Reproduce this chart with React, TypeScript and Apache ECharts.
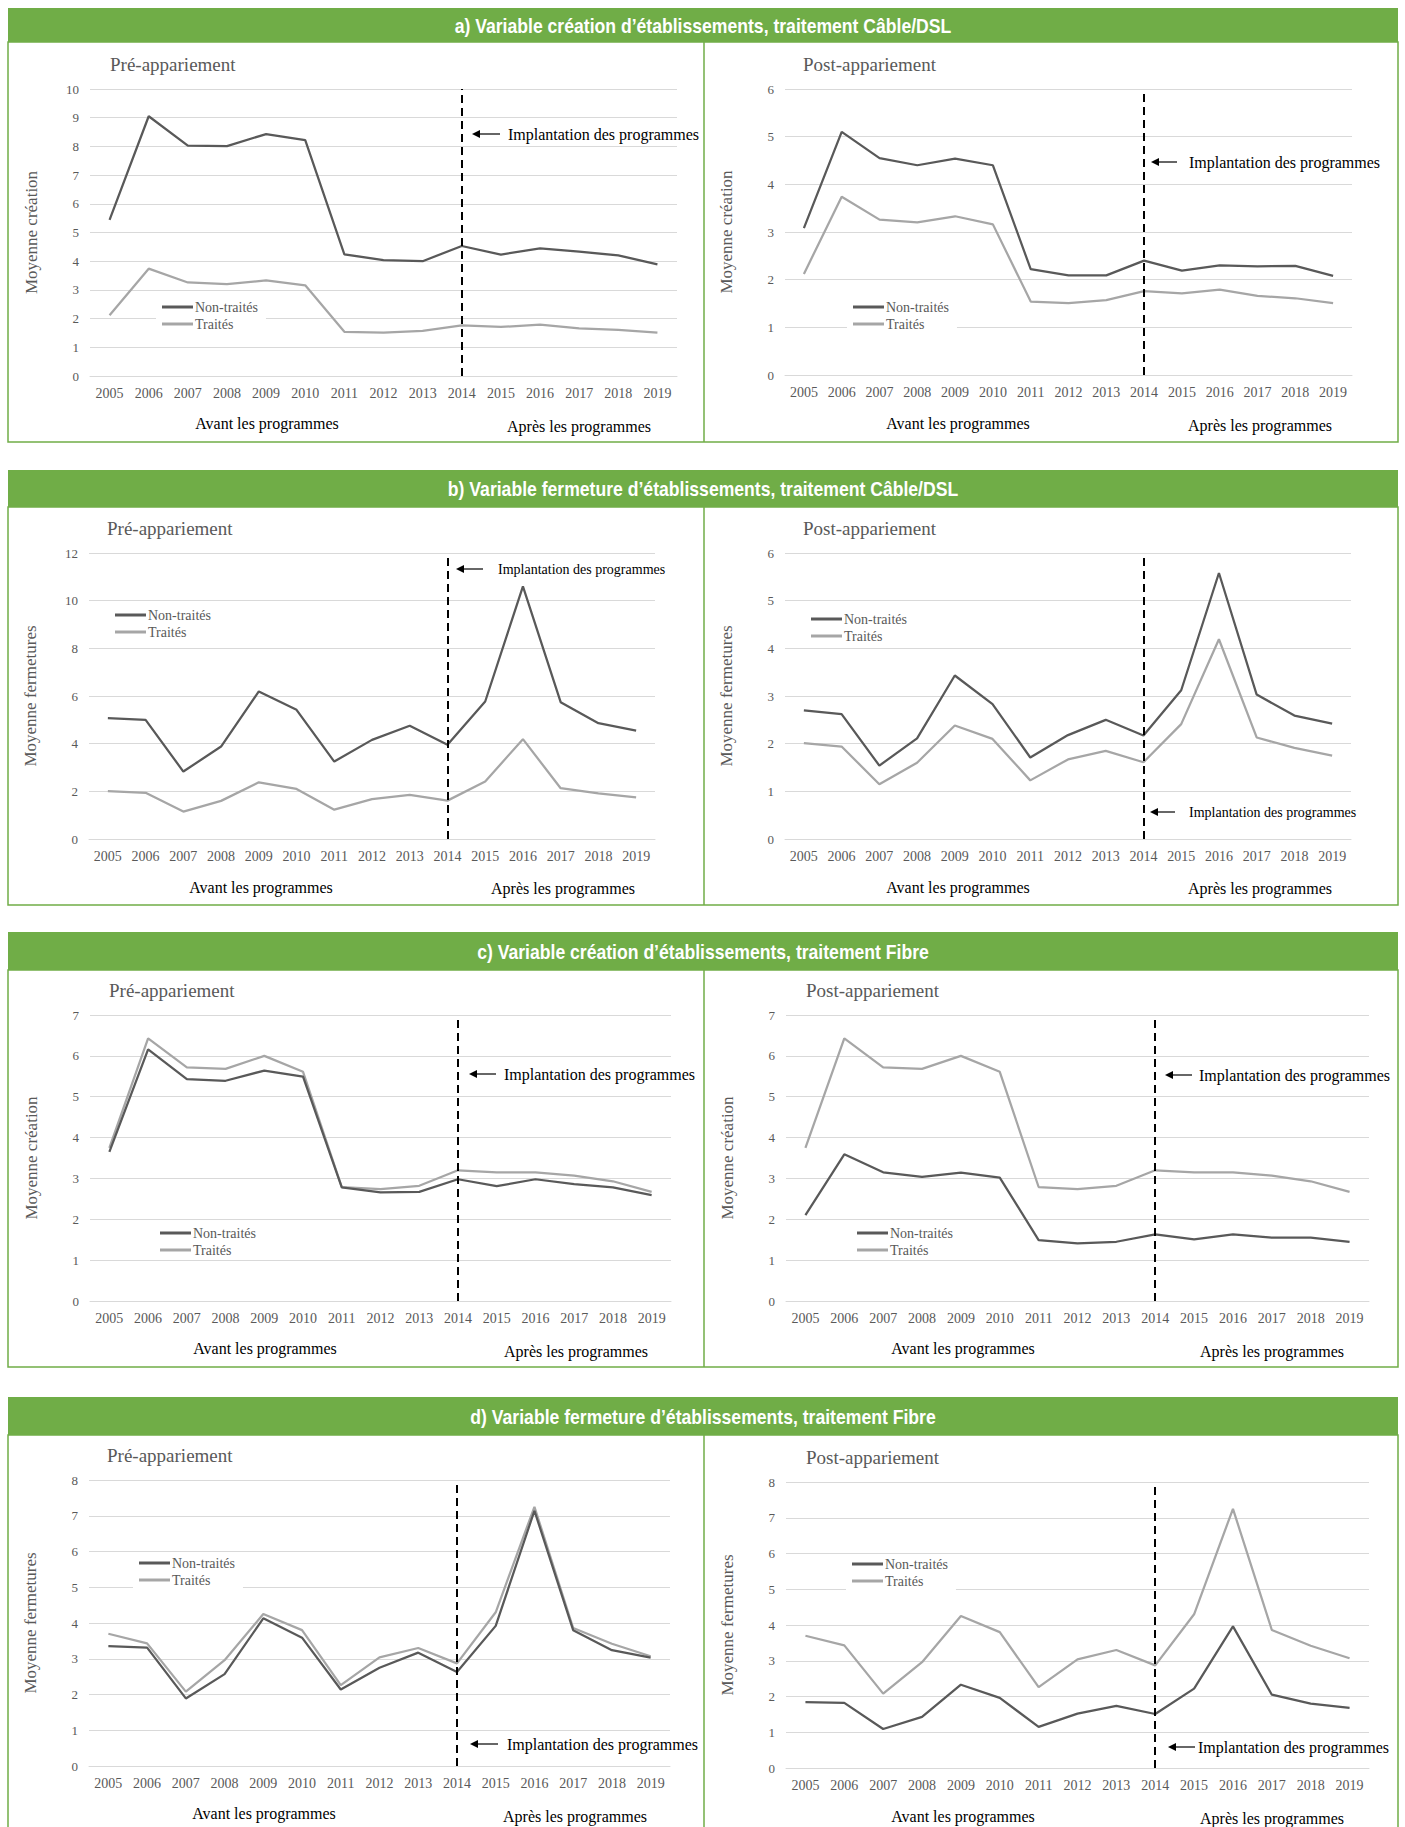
import React, { useEffect, useRef } from "react";
import * as echarts from "echarts";

// ---------- DATA ----------
const years = ["2005", "2006", "2007", "2008", "2009", "2010", "2011", "2012", "2013", "2014", "2015", "2016", "2017", "2018", "2019"];
const seriesNames = ["Non-traités", "Traités"];

// a) création, Câble/DSL
const aPreNonTraites = [5.44, 9.05, 8.03, 8.01, 8.43, 8.22, 4.24, 4.04, 4.0, 4.53, 4.23, 4.45, 4.33, 4.2, 3.89];
const aPreTraites = [2.12, 3.74, 3.26, 3.2, 3.33, 3.16, 1.54, 1.51, 1.57, 1.76, 1.71, 1.79, 1.66, 1.61, 1.51];
const aPostNonTraites = [3.08, 5.1, 4.55, 4.4, 4.54, 4.4, 2.22, 2.09, 2.09, 2.4, 2.19, 2.3, 2.28, 2.29, 2.08];
const aPostTraites = [2.12, 3.74, 3.26, 3.2, 3.33, 3.16, 1.54, 1.51, 1.57, 1.76, 1.71, 1.79, 1.66, 1.61, 1.51];

// b) fermeture, Câble/DSL
const bPreNonTraites = [5.07, 5.0, 2.83, 3.88, 6.19, 5.42, 3.25, 4.16, 4.75, 3.95, 5.77, 10.6, 5.74, 4.86, 4.55];
const bPreTraites = [2.01, 1.94, 1.15, 1.6, 2.38, 2.1, 1.23, 1.67, 1.85, 1.61, 2.41, 4.19, 2.13, 1.91, 1.75];
const bPostNonTraites = [2.7, 2.62, 1.54, 2.11, 3.43, 2.83, 1.71, 2.18, 2.5, 2.17, 3.12, 5.58, 3.03, 2.59, 2.42];
const bPostTraites = [2.01, 1.94, 1.15, 1.6, 2.38, 2.1, 1.23, 1.67, 1.85, 1.61, 2.41, 4.19, 2.13, 1.91, 1.75];

// c) création, Fibre
const cPreNonTraites = [3.65, 6.16, 5.43, 5.39, 5.64, 5.49, 2.78, 2.66, 2.67, 2.98, 2.81, 2.98, 2.86, 2.78, 2.59];
const cPreTraites = [3.75, 6.43, 5.72, 5.68, 6.0, 5.61, 2.79, 2.74, 2.82, 3.2, 3.15, 3.15, 3.07, 2.93, 2.67];
const cPostNonTraites = [2.1, 3.59, 3.15, 3.04, 3.14, 3.02, 1.49, 1.41, 1.45, 1.63, 1.51, 1.63, 1.55, 1.55, 1.45];
const cPostTraites = [3.75, 6.43, 5.72, 5.68, 6.0, 5.61, 2.79, 2.74, 2.82, 3.2, 3.15, 3.15, 3.07, 2.93, 2.67];

// d) fermeture, Fibre
const dPreNonTraites = [3.35, 3.31, 1.89, 2.57, 4.13, 3.59, 2.14, 2.75, 3.17, 2.63, 3.92, 7.14, 3.8, 3.24, 3.03];
const dPreTraites = [3.7, 3.43, 2.08, 2.96, 4.25, 3.8, 2.26, 3.04, 3.3, 2.87, 4.3, 7.25, 3.86, 3.42, 3.07];
const dPostNonTraites = [1.84, 1.82, 1.09, 1.43, 2.33, 1.96, 1.15, 1.52, 1.74, 1.51, 2.22, 3.96, 2.05, 1.8, 1.68];
const dPostTraites = [3.7, 3.43, 2.08, 2.96, 4.25, 3.8, 2.26, 3.04, 3.3, 2.87, 4.3, 7.25, 3.86, 3.42, 3.07];

const yMaxs = [10, 6, 12, 6, 7, 7, 8, 8];
const yIntervals = [1, 1, 2, 1, 1, 1, 1, 1];
const yNames = ["Moyenne création", "Moyenne création", "Moyenne fermetures", "Moyenne fermetures", "Moyenne création", "Moyenne création", "Moyenne fermetures", "Moyenne fermetures"];
const subTitles = ["Pré-appariement", "Post-appariement", "Pré-appariement", "Post-appariement", "Pré-appariement", "Post-appariement", "Pré-appariement", "Post-appariement"];
const sectionTitles = [
  "a) Variable création d’établissements, traitement Câble/DSL",
  "b) Variable fermeture d’établissements, traitement Câble/DSL",
  "c) Variable création d’établissements, traitement Fibre",
  "d) Variable fermeture d’établissements, traitement Fibre",
];
const eventYear = "2014";
const eventLabel = "Implantation des programmes";
const beforeLabel = "Avant les programmes";
const afterLabel = "Après les programmes";

const panelData = [
  [aPreNonTraites, aPreTraites],
  [aPostNonTraites, aPostTraites],
  [bPreNonTraites, bPreTraites],
  [bPostNonTraites, bPostTraites],
  [cPreNonTraites, cPreTraites],
  [cPostNonTraites, cPostTraites],
  [dPreNonTraites, dPreTraites],
  [dPostNonTraites, dPostTraites],
];

// ---------- LAYOUT ----------
const SERIF = "'Liberation Serif', 'DejaVu Serif', serif";
const GREEN = "#70AD47";
const DARK = "#595959";
const LIGHT = "#a6a6a6";

const sections = [
  { bTop: 8, bBot: 42, boxBot: 442 },
  { bTop: 470, bBot: 507, boxBot: 905 },
  { bTop: 932, bBot: 970, boxBot: 1367 },
  { bTop: 1397, bBot: 1435, boxBot: 1840 },
];

const grids = [
  { left: 90, width: 587, top: 89, height: 287 },
  { left: 785, width: 567, top: 89, height: 286 },
  { left: 89, width: 566, top: 553, height: 286 },
  { left: 785, width: 566, top: 553, height: 286 },
  { left: 90, width: 581, top: 1015, height: 286 },
  { left: 786, width: 583, top: 1015, height: 286 },
  { left: 89, width: 581, top: 1480, height: 286 },
  { left: 786, width: 583, top: 1482, height: 286 },
];

const subTitlePos = [
  [110, 66], [803, 66], [107, 530], [803, 530], [109, 992], [806, 992], [107, 1457], [806, 1459],
];
const legendPos = [
  [162, 307], [853, 307], [115, 615], [811, 619], [160, 1233], [857, 1233], [139, 1563], [852, 1564],
];
// tip x, tail x, y, text x, font size
const arrows = [
  [472, 500, 134, 508, 16],
  [1151, 1177, 162, 1189, 16],
  [456, 483, 569, 498, 14],
  [1150, 1175, 812, 1189, 14],
  [469, 496, 1074, 504, 16],
  [1165, 1192, 1075, 1199, 16],
  [470, 498, 1744, 507, 16],
  [1168, 1195, 1747, 1198, 16],
];
const periodPos = [
  [[267, 423], [579, 426]],
  [[958, 423], [1260, 425]],
  [[261, 887], [563, 888]],
  [[958, 887], [1260, 888]],
  [[265, 1348], [576, 1351]],
  [[963, 1348], [1272, 1351]],
  [[264, 1813], [575, 1816]],
  [[963, 1816], [1272, 1818]],
];

function buildOption() {
  const grid: any[] = [];
  const xAxis: any[] = [];
  const yAxis: any[] = [];
  const series: any[] = [];
  const legend: any[] = [];
  const title: any[] = [];
  const graphic: any[] = [];

  sections.forEach((s, i) => {
    graphic.push({
      type: "rect",
      shape: { x: 8, y: s.bBot, width: 1390, height: s.boxBot - s.bBot },
      style: { fill: "#fff", stroke: GREEN, lineWidth: 1.5 },
      z: -10,
    });
    graphic.push({
      type: "line",
      shape: { x1: 704, y1: s.bBot, x2: 704, y2: s.boxBot },
      style: { stroke: GREEN, lineWidth: 1.5 },
      z: -9,
    });
    graphic.push({
      type: "rect",
      shape: { x: 8, y: s.bTop, width: 1390, height: s.bBot - s.bTop },
      style: { fill: GREEN },
      z: -8,
    });
    graphic.push({
      type: "text",
      x: 703,
      y: (s.bTop + s.bBot) / 2 + 1,
      scaleX: 0.88,
      style: {
        text: sectionTitles[i],
        fill: "#fff",
        font: "bold 20px 'Liberation Sans', Arial, sans-serif",
        align: "center",
        verticalAlign: "middle",
      },
      z: 10,
    });
  });

  grids.forEach((g, i) => {
    grid.push({ left: g.left, top: g.top, width: g.width, height: g.height, containLabel: false });
    xAxis.push({
      type: "category",
      gridIndex: i,
      data: years,
      boundaryGap: true,
      axisLine: { show: true, lineStyle: { color: "#d9d9d9", width: 1 } },
      axisTick: { show: false },
      axisLabel: { color: DARK, fontFamily: SERIF, fontSize: 14, margin: 10, interval: 0 },
      splitLine: { show: false },
    });
    yAxis.push({
      type: "value",
      gridIndex: i,
      min: 0,
      max: yMaxs[i],
      interval: yIntervals[i],
      name: yNames[i],
      nameLocation: "middle",
      nameRotate: 90,
      nameGap: 50,
      nameTextStyle: { color: DARK, fontFamily: SERIF, fontSize: 17 },
      axisLine: { show: false },
      axisTick: { show: false },
      axisLabel: { color: DARK, fontFamily: SERIF, fontSize: 13, margin: 11 },
      splitLine: { show: true, lineStyle: { color: "#d9d9d9", width: 1 } },
    });
    const [nonT, trt] = panelData[i];
    series.push({
      type: "line",
      name: seriesNames[1],
      xAxisIndex: i,
      yAxisIndex: i,
      data: trt,
      showSymbol: false,
      color: LIGHT,
      lineStyle: { color: LIGHT, width: 2.25 },
      z: 3,
    });
    series.push({
      type: "line",
      name: seriesNames[0],
      xAxisIndex: i,
      yAxisIndex: i,
      data: nonT,
      showSymbol: false,
      color: DARK,
      lineStyle: { color: DARK, width: 2.25 },
      z: 4,
      markLine: {
        silent: true,
        symbol: "none",
        label: { show: false },
        lineStyle: { color: "#000", type: [8, 5], width: 2 },
        data: [{ xAxis: eventYear }],
        z: 6,
      },
    });
    legend.push({
      orient: "vertical",
      left: legendPos[i][0] - 6,
      top: legendPos[i][1] - 9.5,
      padding: [2, 8, 2, 6],
      backgroundColor: "#fff",
      itemGap: 2,
      itemWidth: 31,
      itemHeight: 3,
      icon: "rect",
      selectedMode: false,
      data: seriesNames,
      textStyle: { color: DARK, fontFamily: SERIF, fontSize: 14, lineHeight: 15, padding: [0, 0, 0, -3] },
      z: 5,
    });
    title.push({
      text: subTitles[i],
      left: subTitlePos[i][0],
      top: subTitlePos[i][1] - 11,
      padding: 0,
      textStyle: { color: DARK, fontFamily: SERIF, fontSize: 19, fontWeight: "normal" },
    });
    const [tip, tail, ay, tx, fs] = arrows[i];
    graphic.push({
      type: "line",
      shape: { x1: tip + 6, y1: ay, x2: tail, y2: ay },
      style: { stroke: "#000", lineWidth: 1.2 },
    });
    graphic.push({
      type: "polygon",
      shape: { points: [[tip, ay], [tip + 8, ay - 4], [tip + 8, ay + 4]] },
      style: { fill: "#000" },
    });
    graphic.push({
      type: "text",
      x: tx,
      y: ay,
      style: { text: eventLabel, fill: "#000", font: `${fs}px ${SERIF}`, align: "left", verticalAlign: "middle" },
    });
    const [bp, ap] = periodPos[i];
    graphic.push({
      type: "text",
      x: bp[0],
      y: bp[1],
      style: { text: beforeLabel, fill: "#000", font: `16px ${SERIF}`, align: "center", verticalAlign: "middle" },
    });
    graphic.push({
      type: "text",
      x: ap[0],
      y: ap[1],
      style: { text: afterLabel, fill: "#000", font: `16px ${SERIF}`, align: "center", verticalAlign: "middle" },
    });
  });

  return {
    animation: false,
    backgroundColor: "#fff",
    title,
    legend,
    grid,
    xAxis,
    yAxis,
    series,
    graphic,
  };
}

export default function App() {
  const ref = useRef<HTMLDivElement>(null);
  useEffect(() => {
    if (!ref.current) return;
    const chart = echarts.init(ref.current, undefined, { renderer: "svg" });
    chart.setOption(buildOption() as any);
    return () => chart.dispose();
  }, []);
  return (
    <div
      ref={ref}
      style={{ position: "absolute", left: 0, top: 0, width: 1405, height: 1827, background: "#fff" }}
    />
  );
}
